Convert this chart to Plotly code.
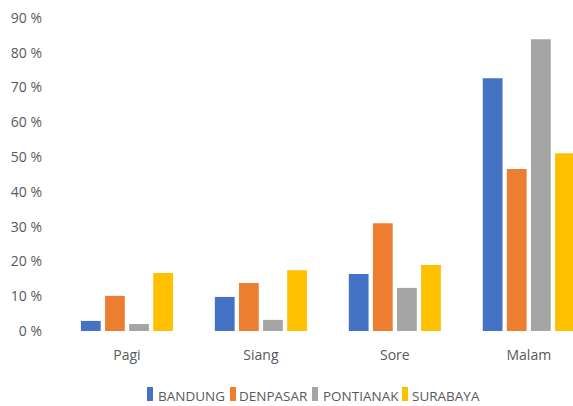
import plotly.graph_objects as go

categories = ["Pagi", "Siang", "Sore", "Malam"]
series_names = ["BANDUNG", "DENPASAR", "PONTIANAK", "SURABAYA"]
bandung = [2.9, 9.8, 16.4, 72.7]
denpasar = [10.1, 13.8, 31.0, 46.6]
pontianak = [2.0, 3.2, 12.4, 83.9]
surabaya = [16.7, 17.5, 19.0, 51.1]
colors = ["#4472C4", "#ED7D31", "#A5A5A5", "#FFC000"]
y_tickvals = [0, 10, 20, 30, 40, 50, 60, 70, 80, 90]
y_ticktext = [f"{v} %" for v in y_tickvals]

W, H = 573, 406
ML, MR, MT, MB = 60, 0, 18, 75
PW, PH = W - ML - MR, H - MT - MB
FONT = "Open Sans"
TXT = "#595959"

fig = go.Figure()
for name, vals, col in zip(series_names, [bandung, denpasar, pontianak, surabaya], colors):
    fig.add_trace(go.Bar(x=categories, y=vals, name=name, marker=dict(color=col, line=dict(width=0)),
                         showlegend=False))

# custom compact legend (Excel style)
legend_px = [147, 230, 312, 402]   # left edge of each key square in pixels
text_px = [158, 239, 323, 412]
key_top, key_bot, text_y = 387, 401, 396

def px2x(px):
    return (px - ML) / PW

def py2y(py):
    return (H - MB - py) / PH

for name, col, kx, tx in zip(series_names, colors, legend_px, text_px):
    fig.add_shape(type="rect", xref="paper", yref="paper",
                  x0=px2x(kx), x1=px2x(kx + 6), y0=py2y(key_bot), y1=py2y(key_top),
                  fillcolor=col, line=dict(width=0))
    fig.add_annotation(xref="paper", yref="paper", x=px2x(tx - 2), y=py2y(text_y),
                       text=name, showarrow=False, xanchor="left", yanchor="middle",
                       font=dict(family=FONT, size=13.5, color=TXT))

fig.update_layout(
    width=W, height=H,
    margin=dict(l=ML, r=MR, t=MT, b=MB),
    paper_bgcolor="white", plot_bgcolor="white",
    barmode="group", bargap=0.28, bargroupgap=0.18,
    font=dict(family=FONT, size=13.5, color=TXT),
)
fig.update_xaxes(range=[-0.5, 3.33], showgrid=False, showline=False, zeroline=False,
                 ticks="", ticklabelstandoff=14,
                 tickfont=dict(family=FONT, size=14, color=TXT))
fig.update_yaxes(range=[0, 90], tickvals=y_tickvals, ticktext=y_ticktext,
                 showgrid=False, showline=False, zeroline=False, ticks="",
                 ticklabelstandoff=17,
                 tickfont=dict(family=FONT, size=14, color=TXT))

fig.write_html("out.html", config={"displayModeBar": False},
               post_script="document.body.style.margin='0px';document.body.style.overflow='hidden';")
